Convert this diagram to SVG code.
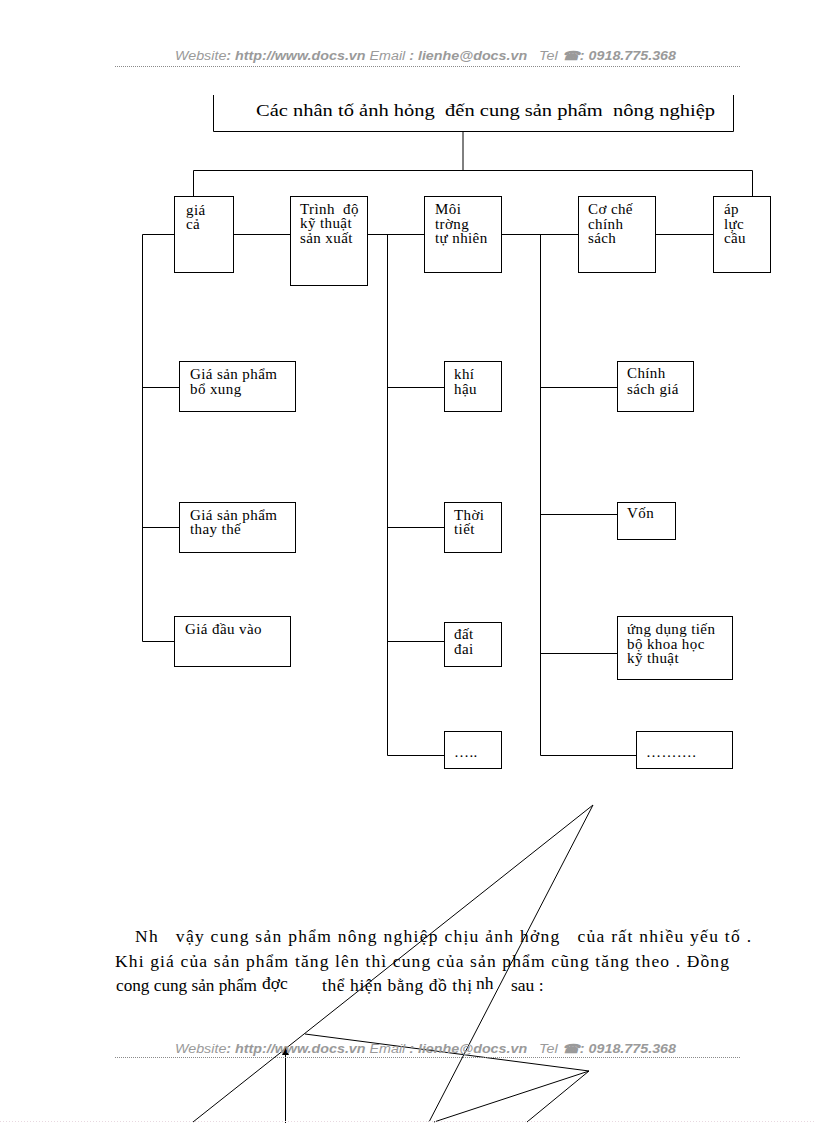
<svg xmlns="http://www.w3.org/2000/svg" width="816" height="1123" viewBox="0 0 816 1123">
<style>
.bx{fill:#fff;stroke:#000;stroke-width:1}
.ln{fill:none;stroke:#000;stroke-width:1}
.t{font-family:"Liberation Serif","Times New Roman",serif;font-size:15px;letter-spacing:0.4px;fill:#000;white-space:pre}
.p{font-family:"Liberation Serif","Times New Roman",serif;font-size:17.5px;fill:#000;white-space:pre}
.hd{font-family:"Liberation Sans",Arial,sans-serif;font-size:12.5px;font-style:italic;fill:#9a9a9a;white-space:pre}
.hd .b{font-weight:bold}
.rule{stroke:#8a8a8a;stroke-width:1;stroke-dasharray:1 1}
</style>
<defs>
<marker id="ah" viewBox="0 0 8 7" refX="8" refY="3.5" markerWidth="8" markerHeight="7" markerUnits="userSpaceOnUse" orient="auto">
<path d="M0,0 L8,3.5 L0,7 Z" fill="#000"/>
</marker>
</defs>
<rect width="816" height="1123" fill="#fff"/>

<g id="header">
<text class="hd" x="175" y="60" textLength="501" lengthAdjust="spacingAndGlyphs">Website<tspan class="b">: http://www.docs.vn</tspan> Email <tspan class="b">: lienhe@docs.vn</tspan>   Tel <tspan class="b">☎: 0918.775.368</tspan></text>
<line class="rule" x1="115" y1="66.5" x2="741" y2="66.5"/>
</g>

<g id="connectors">
<line class="ln" x1="463" y1="132" x2="463" y2="170.5"/>
<polyline class="ln" points="193.5,197 193.5,170.5 752.5,170.5 752.5,197"/>
<line class="ln" x1="142.5" y1="234.5" x2="174" y2="234.5"/>
<line class="ln" x1="233" y1="234.5" x2="290" y2="234.5"/>
<line class="ln" x1="368" y1="234.5" x2="424" y2="234.5"/>
<line class="ln" x1="502" y1="234.5" x2="578" y2="234.5"/>
<line class="ln" x1="656" y1="234.5" x2="713" y2="234.5"/>
<line class="ln" x1="142.5" y1="234.5" x2="142.5" y2="641.5"/>
<line class="ln" x1="387.5" y1="234.5" x2="387.5" y2="755.5"/>
<line class="ln" x1="540.5" y1="234.5" x2="540.5" y2="755.5"/>
<line class="ln" x1="142.5" y1="387.5" x2="179" y2="387.5"/>
<line class="ln" x1="142.5" y1="527.5" x2="179" y2="527.5"/>
<line class="ln" x1="142.5" y1="641.5" x2="174" y2="641.5"/>
<line class="ln" x1="387.5" y1="387.5" x2="444" y2="387.5"/>
<line class="ln" x1="387.5" y1="527.5" x2="444" y2="527.5"/>
<line class="ln" x1="387.5" y1="641.5" x2="444" y2="641.5"/>
<line class="ln" x1="387.5" y1="755.5" x2="444" y2="755.5"/>
<line class="ln" x1="540.5" y1="387.5" x2="617" y2="387.5"/>
<line class="ln" x1="540.5" y1="514.5" x2="617" y2="514.5"/>
<line class="ln" x1="540.5" y1="653.5" x2="617" y2="653.5"/>
<line class="ln" x1="540.5" y1="755.5" x2="636" y2="755.5"/>
</g>

<g id="root">
<path class="ln" d="M213.5,95 V131.5 H733.5 V95"/>
<text class="p" x="256" y="116" textLength="459" lengthAdjust="spacingAndGlyphs">Các nhân tố ảnh hỏng  đến cung sản phẩm  nông nghiệp</text>
</g>

<g id="n-gia-ca">
<rect class="bx" x="174.5" y="196.5" width="59" height="76"/>
<text class="t" x="186" y="215">giá</text>
<text class="t" x="186" y="229">cả</text>
</g>
<g id="n-trinh-do">
<rect class="bx" x="290.5" y="196.5" width="77" height="89"/>
<text class="t" x="300" y="214">Trình  độ</text>
<text class="t" x="300" y="228">kỹ thuật</text>
<text class="t" x="300" y="243">sản xuất</text>
</g>
<g id="n-moi-truong">
<rect class="bx" x="424.5" y="196.5" width="77" height="76"/>
<text class="t" x="435" y="214">Môi</text>
<text class="t" x="435" y="229">trờng</text>
<text class="t" x="435" y="243">tự nhiên</text>
</g>
<g id="n-co-che">
<rect class="bx" x="578.5" y="196.5" width="77" height="76"/>
<text class="t" x="588" y="214">Cơ chế</text>
<text class="t" x="588" y="229">chính</text>
<text class="t" x="588" y="243">sách</text>
</g>
<g id="n-ap-luc">
<rect class="bx" x="713.5" y="196.5" width="57" height="76"/>
<text class="t" x="724" y="214">áp</text>
<text class="t" x="724" y="229">lực</text>
<text class="t" x="724" y="243">cầu</text>
</g>

<g id="n-gia-bo-xung">
<rect class="bx" x="179.5" y="361.5" width="116" height="50"/>
<text class="t" x="190" y="379">Giá sản phẩm</text>
<text class="t" x="190" y="394">bổ xung</text>
</g>
<g id="n-gia-thay-the">
<rect class="bx" x="179.5" y="502.5" width="116" height="50"/>
<text class="t" x="190" y="520">Giá sản phẩm</text>
<text class="t" x="190" y="534">thay thế</text>
</g>
<g id="n-gia-dau-vao">
<rect class="bx" x="174.5" y="616.5" width="116" height="50"/>
<text class="t" x="185" y="634">Giá đầu vào</text>
</g>

<g id="n-khi-hau">
<rect class="bx" x="444.5" y="361.5" width="57" height="50"/>
<text class="t" x="454" y="379">khí</text>
<text class="t" x="454" y="394">hậu</text>
</g>
<g id="n-thoi-tiet">
<rect class="bx" x="444.5" y="502.5" width="57" height="50"/>
<text class="t" x="454" y="520">Thời</text>
<text class="t" x="454" y="534">tiết</text>
</g>
<g id="n-dat-dai">
<rect class="bx" x="444.5" y="622.5" width="57" height="44"/>
<text class="t" x="454" y="639">đất</text>
<text class="t" x="454" y="654">đai</text>
</g>
<g id="n-etc1">
<rect class="bx" x="444.5" y="731.5" width="57" height="37"/>
<text class="t" x="454" y="757">…..</text>
</g>

<g id="n-chinh-sach-gia">
<rect class="bx" x="617.5" y="361.5" width="76" height="50"/>
<text class="t" x="627" y="378">Chính</text>
<text class="t" x="627" y="394">sách giá</text>
</g>
<g id="n-von">
<rect class="bx" x="617.5" y="502.5" width="58" height="37"/>
<text class="t" x="627" y="518">Vốn</text>
</g>
<g id="n-ung-dung">
<rect class="bx" x="617.5" y="616.5" width="115" height="63"/>
<text class="t" x="627" y="634">ứng dụng tiến</text>
<text class="t" x="627" y="649">bộ khoa học</text>
<text class="t" x="627" y="663">kỹ thuật</text>
</g>
<g id="n-etc2">
<rect class="bx" x="636.5" y="731.5" width="96" height="37"/>
<text class="t" x="646" y="757">……….</text>
</g>

<g id="paragraph">
<text class="p" x="135" y="942" textLength="616" lengthAdjust="spacing">Nh   vậy cung sản phẩm nông nghiệp chịu ảnh hởng   của rất nhiều yếu tố .</text>
<text class="p" x="115" y="967" textLength="614" lengthAdjust="spacing">Khi giá của sản phẩm tăng lên thì cung của sản phẩm cũng tăng theo . Đồng</text>
<text class="p" x="116" y="991" textLength="141" lengthAdjust="spacingAndGlyphs">cong cung sản phẩm</text>
<text class="p" x="262" y="989">đợc</text>
<text class="p" x="322" y="991" textLength="150" lengthAdjust="spacing">thể hiện bằng đồ thị</text>
<text class="p" x="476" y="989">nh</text>
<text class="p" x="511" y="991">sau :</text>
</g>

<g id="graph">
<line class="ln" x1="593" y1="805" x2="193" y2="1122"/>
<line class="ln" x1="593" y1="805" x2="429" y2="1122"/>
<line class="ln" x1="305" y1="1034" x2="589" y2="1071"/>
<line class="ln" x1="589" y1="1071" x2="434" y2="1122"/>
<line class="ln" x1="589" y1="1071" x2="527" y2="1122"/>
<line class="ln" x1="285.5" y1="1123" x2="285.5" y2="1047" marker-end="url(#ah)"/>
</g>

<g id="footer">
<text class="hd" x="175" y="1053" textLength="501" lengthAdjust="spacingAndGlyphs">Website<tspan class="b">: http://www.docs.vn</tspan> Email <tspan class="b">: lienhe@docs.vn</tspan>   Tel <tspan class="b">☎: 0918.775.368</tspan></text>
<line class="rule" x1="115" y1="1057.5" x2="741" y2="1057.5"/>
<line x1="0" y1="1121.5" x2="816" y2="1121.5" stroke="#e8d8e0" stroke-width="1" stroke-dasharray="1 2"/>
</g>
</svg>
